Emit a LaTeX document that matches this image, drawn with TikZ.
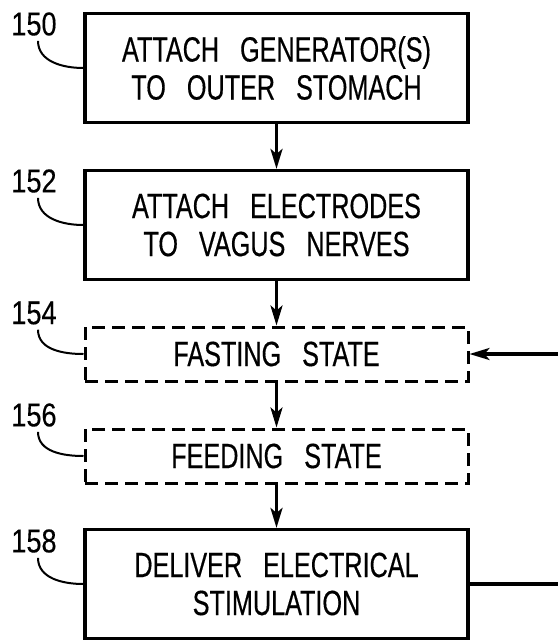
\documentclass[tikz,border=0pt]{standalone}
\usepackage{fontspec}
\setmainfont{Liberation Sans}[FakeStretch=0.72,WordSpace=3,FakeBold=0.4]
\newfontfamily\numfont{Liberation Sans}[FakeStretch=0.82,FakeBold=0.3]
\usetikzlibrary{arrows.meta}
\begin{document}
\begin{tikzpicture}[x=1pt,y=-1pt,
    box/.style={draw,line width=3.2pt,minimum width=383pt,minimum height=109pt,
      align=center,inner sep=0pt,font=\fontsize{35}{38}\selectfont},
    dbox/.style={box,line width=3pt,dash pattern=on 13pt off 7pt,minimum height=54pt},
    num/.style={font=\numfont\fontsize{33}{33}\selectfont,inner sep=0pt},
    leader/.style={line width=2pt},
    flow/.style={line width=3.2pt,-{Stealth[length=20pt,width=12pt,inset=5pt]}}]
  \useasboundingbox (0,0) rectangle (558,641);
  % boxes
  \node[box] (attgen) at (276.5,68) {ATTACH GENERATOR(S)\\TO OUTER STOMACH};
  \node[box] (attel) at (276.5,225) {ATTACH ELECTRODES\\TO VAGUS NERVES};
  \node[dbox] (fast) at (276.5,354) {FASTING STATE};
  \node[dbox] (feed) at (276.5,456) {FEEDING STATE};
  \node[box] (stim) at (276.5,584) {DELIVER ELECTRICAL\\STIMULATION};
  % reference numerals
  \node[num] (n150) at (34,24) {150};
  \node[num] (n152) at (34,181) {152};
  \node[num] (n154) at (34,313) {154};
  \node[num] (n156) at (34,415) {156};
  \node[num] (n158) at (34,541) {158};
  \draw[leader] ([xshift=4pt,yshift=-5pt]n150.south) to[out=-90,in=180] (attgen.west);
  \draw[leader] ([xshift=4pt,yshift=-5pt]n152.south) to[out=-90,in=180] (attel.west);
  \draw[leader] ([xshift=4pt,yshift=-5pt]n154.south) to[out=-90,in=180] (fast.west);
  \draw[leader] ([xshift=4pt,yshift=-5pt]n156.south) to[out=-90,in=180] (feed.west);
  \draw[leader] ([xshift=4pt,yshift=-5pt]n158.south) to[out=-90,in=180] (stim.west);
  % flow
  \draw[flow] (attgen) -- (attel);
  \draw[flow] (attel) -- (fast);
  \draw[flow] (fast) -- (feed);
  \draw[flow] (feed) -- (stim);
  \coordinate (back) at (558,354);
  \coordinate (out) at (558,584);
  \draw[flow] (back) -- (fast.east);
  \draw[line width=3.2pt] (stim.east) -- (out);
\end{tikzpicture}
\end{document}
